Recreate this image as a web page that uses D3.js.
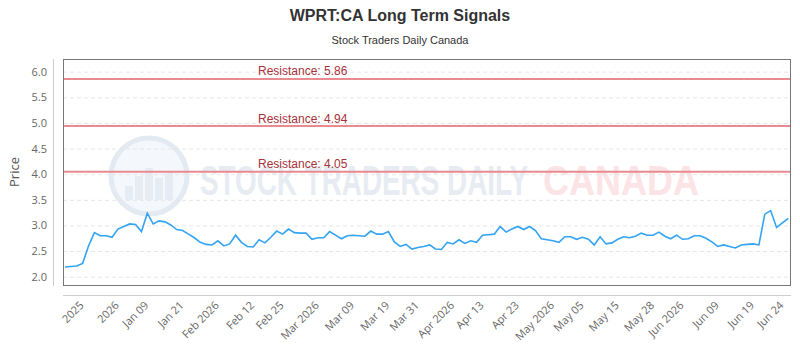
<!DOCTYPE html>
<html><head><meta charset="utf-8">
<script src="https://cdn.jsdelivr.net/npm/d3@7/dist/d3.min.js"></script>
<style>body{margin:0;background:#fff}svg{display:block}</style>
</head><body><svg id="c" width="800" height="350"></svg>
<script>
const prices = [2.19,2.20,2.21,2.26,2.60,2.86,2.80,2.80,2.77,2.93,2.98,3.03,3.02,2.88,3.24,3.03,3.09,3.07,3.01,2.92,
2.90,2.83,2.76,2.67,2.63,2.62,2.70,2.60,2.64,2.81,2.67,2.59,2.58,2.72,2.66,2.77,2.89,2.83,2.93,2.86,
2.85,2.85,2.73,2.76,2.76,2.88,2.81,2.74,2.80,2.81,2.80,2.79,2.89,2.83,2.83,2.88,2.68,2.59,2.63,2.54,
2.57,2.59,2.62,2.54,2.53,2.67,2.64,2.72,2.65,2.70,2.67,2.81,2.82,2.83,2.98,2.87,2.93,2.98,2.92,2.98,
2.90,2.74,2.72,2.70,2.67,2.78,2.78,2.73,2.77,2.73,2.62,2.78,2.64,2.66,2.73,2.78,2.76,2.79,2.85,2.81,
2.81,2.87,2.79,2.74,2.81,2.73,2.74,2.80,2.80,2.75,2.68,2.59,2.62,2.59,2.56,2.62,2.63,2.64,2.62,3.22,
3.29,2.96,3.05,3.14];
const tickLabels = ["2025","2026","Jan 09","Jan 21","Feb 2026","Feb 12","Feb 25","Mar 2026","Mar 09","Mar 19","Mar 31",
"Apr 2026","Apr 13","Apr 23","May 2026","May 05","May 15","May 28","Jun 2026","Jun 09","Jun 19","Jun 24"];
const tickIndex = [4,10,15,21,27,33,38,44,50,56,61,67,72,78,84,89,95,101,106,112,118,123];
const resistanceLevels = [5.86,4.94,4.05];
const yTicks = [2.0,2.5,3.0,3.5,4.0,4.5,5.0,5.5,6.0];

const svg = d3.select("#c");
const frame = {l:63, t:59, r:791, b:285};
const x = d3.scaleLinear().domain([0, prices.length-1]).range([65, 788.3]);
const y = d3.scaleLinear().domain([2,6]).range([276.7, 71.7]);

// title
svg.append("text").attr("x",400).attr("y",21).attr("text-anchor","middle")
  .attr("font-family","Liberation Sans, Arial, sans-serif").attr("font-weight","bold")
  .attr("font-size",16).attr("fill","#333").text("WPRT:CA Long Term Signals");
svg.append("text").attr("x",400).attr("y",44).attr("text-anchor","middle")
  .attr("font-family","Liberation Sans, Arial, sans-serif")
  .attr("font-size",11).attr("fill","#333").text("Stock Traders Daily Canada");

// watermark
const wm = svg.append("g");
wm.append("circle").attr("cx",149).attr("cy",176).attr("r",38)
  .attr("fill","#f4f7fb").attr("stroke","#e4eaf2").attr("stroke-width",5);
[[-20,14],[-10,24],[0,32],[10,22],[20,28]].forEach(([dx,h])=>{
  wm.append("rect").attr("x",149+dx-4).attr("y",200-h).attr("width",8).attr("height",h).attr("fill","#e6ecf4");
});
wm.append("text").attr("x",200).attr("y",195).attr("font-family","Liberation Sans Narrow, Arial Narrow, sans-serif")
  .attr("font-weight","bold").attr("font-size",42).attr("fill","#e7ecf3")
  .attr("textLength",328).attr("lengthAdjust","spacingAndGlyphs").text("STOCK TRADERS DAILY");
wm.append("text").attr("x",543).attr("y",195).attr("font-family","Liberation Sans Narrow, Arial Narrow, sans-serif")
  .attr("font-weight","bold").attr("font-size",42).attr("fill","#fce4e6")
  .attr("textLength",156).attr("lengthAdjust","spacingAndGlyphs").text("CANADA");

// grid
const grid = d3.axisLeft(y).tickValues(yTicks).tickSize(-(frame.r-frame.l)).tickFormat("");
svg.append("g").attr("transform",`translate(${frame.l},0)`).call(grid)
  .call(g=>g.select(".domain").remove())
  .call(g=>g.selectAll("line").attr("stroke","#e6e6e6").attr("stroke-dasharray","4,3"));

// frame
svg.append("rect").attr("x",frame.l+0.5).attr("y",frame.t+0.5)
  .attr("width",frame.r-frame.l-1).attr("height",frame.b-frame.t)
  .attr("fill","none").attr("stroke","#777").attr("stroke-width",1);

// y axis
const yAxis = d3.axisLeft(y).tickValues(yTicks).tickSize(0).tickPadding(0).tickFormat(d3.format(".1f"));
svg.append("g").attr("transform","translate(47,0)").call(yAxis)
  .call(g=>g.select(".domain").remove())
  .call(g=>g.selectAll("text").attr("font-family","Open Sans, sans-serif").attr("font-size",11).attr("fill","#666"));
svg.append("line").attr("x1",53.5).attr("x2",53.5).attr("y1",frame.t).attr("y2",frame.b+1).attr("stroke","#ccc");
svg.append("text").attr("transform","translate(19,172) rotate(-90)").attr("text-anchor","middle")
  .attr("font-family","Open Sans, sans-serif").attr("font-size",13).attr("fill","#555").text("Price");

// x axis
svg.append("line").attr("x1",frame.l).attr("x2",frame.r).attr("y1",295.5).attr("y2",295.5).attr("stroke","#ccc");
const xt = svg.append("g");
tickLabels.forEach((lab,i)=>{
  xt.append("text").attr("transform",`translate(${x(tickIndex[i])-4},306) rotate(-45)`)
    .attr("text-anchor","end").attr("font-family","Open Sans, sans-serif").attr("font-size",11)
    .attr("fill","#666").text(lab);
});

// resistance lines
resistanceLevels.forEach(v=>{
  svg.append("line").attr("x1",frame.l+1).attr("x2",frame.r-1).attr("y1",y(v)).attr("y2",y(v))
    .attr("stroke","#e88a8f").attr("stroke-width",2);
  svg.append("text").attr("x",258).attr("y",y(v)-3.5).attr("font-family","Liberation Sans, Arial, sans-serif")
    .attr("font-size",12).attr("fill","#a8323a").text("Resistance: "+v.toFixed(2));
});

// price line
svg.append("path").datum(prices)
  .attr("d", d3.line().x((d,i)=>x(i)).y(d=>y(d)))
  .attr("fill","none").attr("stroke","#33a3f4").attr("stroke-width",1.6);
</script></body></html>
